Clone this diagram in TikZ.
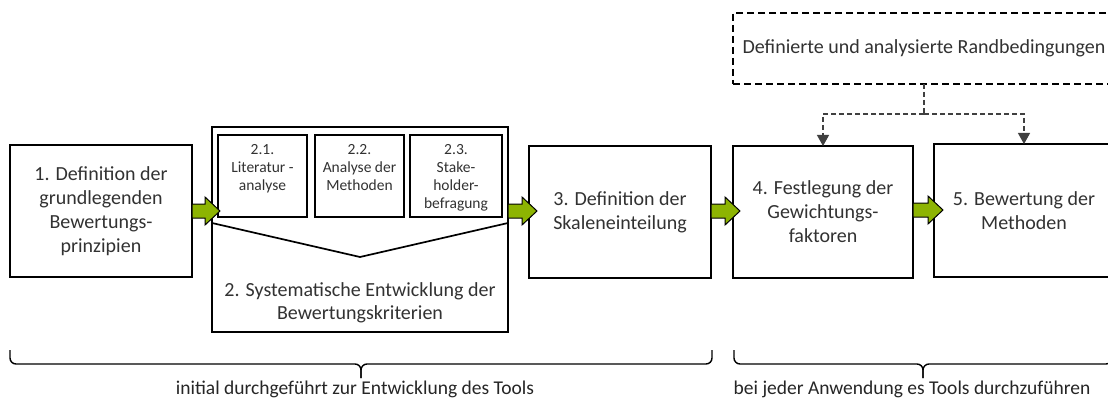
\documentclass[tikz,border=0pt]{standalone}
\usepackage{fontspec}
\setmainfont{Carlito}
\usetikzlibrary{arrows.meta,calc}
\definecolor{arrowgreen}{RGB}{141,180,2}
\definecolor{txtgray}{RGB}{50,50,50}
\begin{document}
\begin{tikzpicture}[x=1pt,y=-1pt,
  box/.style={draw=black,line width=1.7pt,inner sep=0pt,outer sep=0pt,align=center,text=txtgray,font=\fontsize{20}{24}\selectfont},
  subbox/.style={draw=black,line width=2.4pt,inner sep=0pt,outer sep=0pt},
  subtxt/.style={inner sep=0pt,align=center,text=txtgray,font=\fontsize{15.5}{18}\selectfont,anchor=north},
  lbl/.style={inner sep=0pt,align=center,text=txtgray,font=\fontsize{20}{23}\selectfont},
  brlbl/.style={inner sep=0pt,text=black!85,font=\fontsize{19.5}{23}\selectfont},
  fat/.style={fill=arrowgreen,draw=black,line width=1pt,line join=miter},
  dbox/.style={draw=black,line width=1.6pt,dash pattern=on 7pt off 4pt,inner sep=0pt,outer sep=0pt,text=txtgray,font=\fontsize{20}{24}\selectfont},
  conn/.style={draw=black!75,line width=1.2pt,dash pattern=on 5pt off 3pt},
  bracel/.style={draw=black,line width=1.4pt,rounded corners=6pt}
]
\clip (0,0) rectangle (1108,401);
\useasboundingbox (0,0) rectangle (1108,401);
\fill[white] (0,0) rectangle (1108,401);

% boxes
\node[box,minimum width=182pt,minimum height=132pt] (b1) at (101,211) {1. Definition der\\grundlegenden\\Bewertungs-\\prinzipien};
\node[box,minimum width=296pt,minimum height=205pt] (b2) at (360,229.5) {};
\node[subbox,minimum width=89pt,minimum height=82pt] (s1) at (262.5,176) {};
\node[subbox,minimum width=89pt,minimum height=82pt] (s2) at (359.5,176) {};
\node[subbox,minimum width=92pt,minimum height=82pt] (s3) at (456,176) {};
\node[subtxt] (t1) at ($(s1.north)+(0,9)$) {2.1.\\Literatur -\\analyse};
\node[subtxt] (t2) at ($(s2.north)+(0,9)$) {2.2.\\Analyse der\\Methoden};
\node[subtxt] (t3) at ($(s3.north)+(0,9)$) {2.3.\\Stake-\\holder-\\befragung};
\node[lbl] (t2b) at (360,303) {2. Systematische Entwicklung der\\Bewertungskriterien};
\draw[line width=1.7pt,line join=miter] ($(b2.west)+(0,-6.5)$) -- ($(b2.center)+(0,27.5)$) -- ($(b2.east)+(0,-6.5)$);

\node[box,minimum width=182pt,minimum height=132pt] (b3) at (620,212) {3. Definition der\\Skaleneinteilung};
\node[box,minimum width=180pt,minimum height=132pt] (b4) at (823,212) {4. Festlegung der\\Gewichtungs-\\faktoren};
\node[box,minimum width=180pt,minimum height=133pt] (b5) at (1024,210.5) {5. Bewertung der\\Methoden};

\node[dbox,minimum width=382pt,minimum height=71pt] (rb) at (924,48.5) {Definierte und analysierte Randbedingungen};

% green arrows
\draw[fat] ($(b1.east |- 0,211)+(0,-7)$) -- ++(13,0) -- ++(0,-7) -- ++(15,14) -- ++(-15,14) -- ++(0,-7) -- ++(-13,0) -- cycle;
\draw[fat] ($(b2.east |- 0,211)+(0,-7)$) -- ++(14,0) -- ++(0,-7) -- ++(15,14) -- ++(-15,14) -- ++(0,-7) -- ++(-14,0) -- cycle;
\draw[fat] ($(b3.east |- 0,211)+(0,-7)$) -- ++(14,0) -- ++(0,-7) -- ++(15,14) -- ++(-15,14) -- ++(0,-7) -- ++(-14,0) -- cycle;
\draw[fat] ($(b4.east |- 0,210)+(0,-7)$) -- ++(15,0) -- ++(0,-7) -- ++(15,14) -- ++(-15,14) -- ++(0,-7) -- ++(-15,0) -- cycle;

% dashed connectors
\draw[conn] (rb.south) -- ++(0,30) coordinate (j);
\draw[conn,-{Triangle[width=12pt,length=11pt]}] (j) -| (b4.north);
\draw[conn,-{Triangle[width=12pt,length=11pt]}] (j) -| (b5.north);

% braces
\draw[bracel] (10,350) -- (10,364) -- (361,364) -- (361,378);
\draw[bracel] (712,350) -- (712,364) -- (361,364) -- (361,378);
\draw[bracel] (734,350) -- (734,364) -- (923,364) -- (923,378);
\draw[bracel] (1112,350) -- (1112,364) -- (923,364) -- (923,378);
\node[brlbl] (l1) at (355,389) {initial durchgeführt zur Entwicklung des Tools};
\node[brlbl] (l2) at (912,389) {bei jeder Anwendung es Tools durchzuführen};
\end{tikzpicture}
\end{document}
